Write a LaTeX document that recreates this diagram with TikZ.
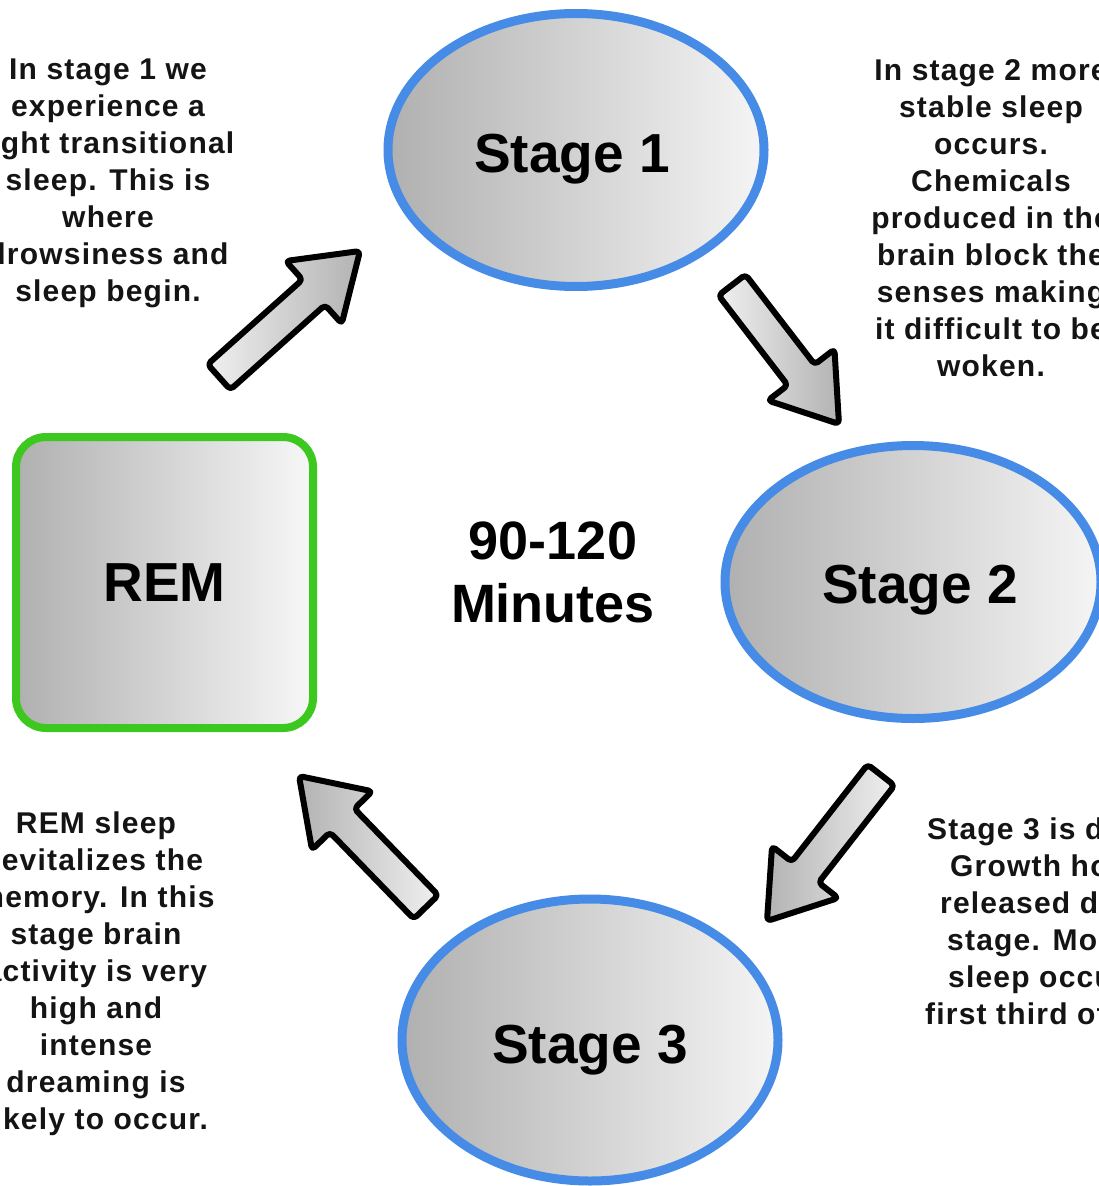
\documentclass[tikz,border=0pt]{standalone}
\usepackage{fontspec}
\setmainfont{Liberation Sans}
\newfontfamily\bodyfont[LetterSpace=4]{Liberation Sans}
\usetikzlibrary{shapes.geometric,calc,shadows}
\definecolor{stageblue}{RGB}{70,140,230}
\definecolor{remgreen}{RGB}{60,200,30}
\newcommand{\blockarr}[3]{%
  \path ($(#2)!62pt!(#1)$) coordinate (#2h);
  \draw[barrow,#3] ($(#1)!17pt!90:(#2)$) -- ($(#2h)!17pt!90:(#2)$) -- ($(#2h)!42pt!90:(#2)$) -- (#2)
    -- ($(#2h)!42pt!-90:(#2)$) -- ($(#2h)!17pt!-90:(#2)$) -- ($(#1)!17pt!-90:(#2)$) -- cycle;}
\begin{document}
\begin{tikzpicture}[x=1pt,y=-1pt,
  stageell/.style={ellipse, draw=stageblue, line width=9pt, left color=black!31, right color=white!96!black,
    minimum width=376pt, minimum height=273pt, inner sep=0pt, text=black,
    font=\fontsize{55}{60}\selectfont\bfseries,
    drop shadow={shadow xshift=2pt, shadow yshift=-3pt, fill=stageblue!55!black, opacity=0.45}},
  rembox/.style={rectangle, rounded corners=30pt, draw=remgreen, line width=8pt, left color=black!31, right color=white!97!black,
    minimum width=297pt, minimum height=291pt, inner sep=0pt, text=black,
    font=\fontsize{55}{60}\selectfont\bfseries},
  centertxt/.style={align=center, inner sep=0pt, text=black, font=\fontsize{54}{63}\selectfont\bfseries},
  bodytxt/.style={align=center, inner sep=0pt, anchor=north, text=black!92, font=\bodyfont\bfseries\fontsize{30}{37}\selectfont},
  linetxt/.style={inner sep=0pt, anchor=base west, text=black!92, font=\bodyfont\bfseries\fontsize{30}{37}\selectfont},
  barrow/.style={draw=black, line width=6pt, line join=round, rounded corners=4pt},
  headright/.style={left color=white!94!black, right color=black!30},
  headleft/.style={left color=black!30, right color=white!94!black}]
\useasboundingbox (0,0) rectangle (1099,1186);
\fill[white] (0,0) rectangle (1099,1186);
\clip (0,0) rectangle (1099,1186);

% stages
\node[stageell] (s1) at (576,150) {\raisebox{-22pt}[0pt][0pt]{Stage 1\hspace*{8pt}}};
\node[stageell] (s2) at (913,582) {\raisebox{-21pt}[0pt][0pt]{\hspace*{14pt}Stage 2}};
\node[stageell, minimum height=282pt] (s3) at (590,1040) {\raisebox{-23pt}[0pt][0pt]{Stage 3}};
\node[rembox] (rem) at (164.5,582.5) {REM};
\node[centertxt] (mid) at (553,572) {90-120\\Minutes};

% arrows
\coordinate (a1s) at (219,377); \coordinate (a1e) at (360,251);
\coordinate (a2s) at (732,285); \coordinate (a2e) at (839,424);
\coordinate (a3s) at (881,775); \coordinate (a3e) at (767,921);
\coordinate (a4s) at (426,907); \coordinate (a4e) at (299,776);
\blockarr{a1s}{a1e}{headright}
\blockarr{a2s}{a2e}{headright}
\blockarr{a3s}{a3e}{headleft}
\blockarr{a4s}{a4e}{headleft}

% descriptions
\node[bodytxt] (t1) at (108,59) {In stage 1 we\\experience a\\light transitional\\sleep. This is\\where\\drowsiness and\\sleep begin.};
\node[bodytxt] (t2) at (991,59) {In stage 2 more\\stable sleep\\occurs.\\Chemicals\\produced in the\\brain block the\\senses making\\it difficult to be\\woken.};
\node[bodytxt] (t4) at (96,812) {REM sleep\\revitalizes the\\memory. In this\\stage brain\\activity is very\\high and\\intense\\dreaming is\\likely to occur.};
\node[linetxt] (r1) at (927,839) {Stage 3 is deep};
\node[linetxt] (r2) at (950,876) {Growth hormone};
\node[linetxt] (r3) at (940,913) {released during};
\node[linetxt] (r4) at (947,950) {stage. Most};
\node[linetxt] (r5) at (948,987) {sleep occurs};
\node[linetxt] (r6) at (925,1024) {first third of};
\end{tikzpicture}
\end{document}
